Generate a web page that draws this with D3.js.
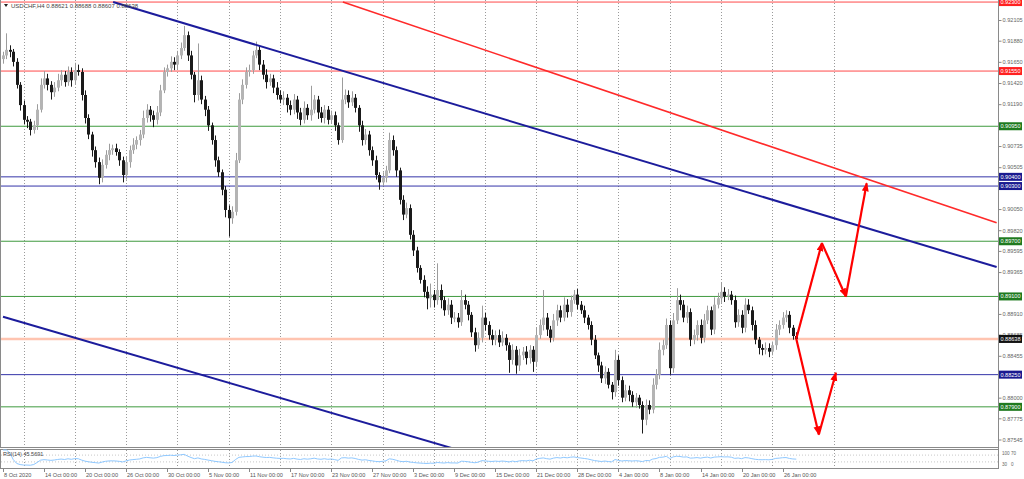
<!DOCTYPE html>
<html>
<head>
<meta charset="utf-8">
<title>USDCHF,H4</title>
<style>
  body { margin: 0; background: #fff; }
  svg { display: block; font-family: "Liberation Sans", Arial, sans-serif; }
</style>
</head>
<body>
<script src="https://cdn.jsdelivr.net/npm/d3@7/dist/d3.min.js"></script>
<script>
// closes, one bar per 8 hours
var closes = [
  0.9172,0.9178,0.9176,0.9165,0.9140,0.9118,0.9102,0.9100,0.9091,0.9096,0.9113,0.9140,
  0.9147,0.9140,0.9132,0.9137,0.9145,0.9151,0.9143,0.9154,0.9145,0.9156,0.9154,0.9129,
  0.9104,0.9086,0.9069,0.9056,0.9039,0.9053,0.9064,0.9069,0.9071,0.9067,0.9058,0.9042,
  0.9056,0.9069,0.9075,0.9080,0.9086,0.9104,0.9113,0.9107,0.9102,0.9110,0.9134,0.9154,
  0.9158,0.9165,0.9162,0.9172,0.9180,0.9194,0.9172,0.9151,0.9129,0.9145,0.9124,0.9113,
  0.9096,0.9080,0.9058,0.9045,0.9026,0.9004,0.8995,0.9002,0.9058,0.9124,0.9140,0.9154,
  0.9156,0.9172,0.9178,0.9162,0.9151,0.9143,0.9147,0.9137,0.9129,0.9124,0.9126,0.9118,
  0.9113,0.9124,0.9110,0.9102,0.9115,0.9107,0.9113,0.9124,0.9110,0.9104,0.9113,0.9102,
  0.9107,0.9096,0.9080,0.9124,0.9129,0.9121,0.9126,0.9115,0.9096,0.9080,0.9086,0.9069,
  0.9058,0.9042,0.9034,0.9039,0.9047,0.9080,0.9069,0.9047,0.9015,0.8999,0.9006,0.8977,
  0.8960,0.8941,0.8928,0.8915,0.8908,0.8912,0.8906,0.8917,0.8906,0.8895,0.8901,0.8887,
  0.8887,0.8882,0.8906,0.8901,0.8890,0.8871,0.8857,0.8865,0.8887,0.8879,0.8868,0.8863,
  0.8868,0.8860,0.8865,0.8857,0.8841,0.8852,0.8835,0.8846,0.8850,0.8843,0.8852,0.8839,
  0.8868,0.8879,0.8887,0.8874,0.8865,0.8884,0.8895,0.8887,0.8901,0.8893,0.8906,0.8912,
  0.8901,0.8895,0.8887,0.8879,0.8863,0.8846,0.8835,0.8821,0.8828,0.8814,0.8806,0.8841,
  0.8819,0.8800,0.8808,0.8803,0.8795,0.8800,0.8792,0.8776,0.8792,0.8787,0.8814,0.8825,
  0.8852,0.8857,0.8879,0.8832,0.8884,0.8906,0.8901,0.8887,0.8893,0.8863,0.8868,0.8879,
  0.8865,0.8884,0.8895,0.8874,0.8901,0.8908,0.8915,0.8910,0.8912,0.8906,0.8882,0.8890,
  0.8876,0.8901,0.8895,0.8879,0.8863,0.8854,0.8852,0.8854,0.8850,0.8857,0.8874,0.8879,
  0.8887,0.8890,0.8876,0.8867,0.88638
];
var firstOpen = 0.9168;
// upper / lower shadow length in pips
var upWick = [
  4,18,5,3,4,3,5,4,3,5,6,7,  8,5,4,6,7,5,4,6,5,8,6,4,  5,4,3,4,5,6,5,7,4,5,3,4,
  6,5,7,4,5,8,6,4,5,7,6,5,  4,6,5,5,6,10,4,5,3,40,5,4,  4,3,5,4,3,4,5,6,8,7,6,5,
  6,5,9,4,5,6,5,4,6,5,7,4,  5,6,4,5,7,4,26,5,4,6,5,4,  5,4,3,24,6,5,7,4,3,5,6,4,
  4,5,3,6,5,8,5,4,3,5,6,4,  5,4,3,5,6,12,5,29,6,4,7,5,  6,5,11,6,4,3,5,6,13,5,4,6,
  5,6,7,4,3,6,4,7,5,6,5,4,  8,6,30,5,4,7,6,5,8,6,5,5,  6,4,5,3,4,5,3,4,6,4,3,11,
  5,4,6,5,4,5,3,4,6,5,7,6,  8,6,7,5,8,13,6,5,7,4,6,5,  6,7,5,4,8,6,10,5,6,4,5,6,
  5,7,6,4,5,3,4,6,5,4,6,5,  6,5,4,3,4
];
var dnWick = [
  5,4,6,5,4,6,5,7,6,4,5,3,  4,6,8,5,4,6,5,4,7,5,4,6,  6,5,7,6,7,5,4,6,5,4,6,8,
  5,6,4,5,6,4,5,7,8,5,4,3,  5,4,6,5,4,3,6,5,8,6,5,7,  6,5,7,5,6,8,20,6,4,3,5,4,
  5,4,3,6,5,7,4,6,5,4,6,8,  6,5,7,6,4,5,6,4,7,5,6,5,  4,6,5,3,5,6,4,5,7,6,5,6,
  6,5,8,4,5,3,6,7,5,6,4,5,  6,5,4,6,12,10,8,5,9,6,5,7,  5,6,4,5,6,5,7,4,5,6,5,6,
  6,5,4,6,14,5,9,6,5,7,6,11,  5,4,6,7,5,4,6,5,4,6,5,4,  5,4,6,5,6,4,7,5,6,4,8,5,
  6,5,4,7,5,6,4,15,6,5,4,5,  5,6,4,7,5,4,6,5,6,7,5,6,  6,5,4,6,5,4,5,6,4,5,6,5,
  6,5,4,6,5,7,6,5,6,4,5,6,  4,5,6,4,3
];

var dateLabels = ["8 Oct 2020","14 Oct 00:00","20 Oct 00:00","26 Oct 00:00","30 Oct 00:00",
  "5 Nov 00:00","11 Nov 00:00","17 Nov 00:00","23 Nov 00:00","27 Nov 00:00","3 Dec 00:00",
  "9 Dec 00:00","15 Dec 00:00","21 Dec 00:00","28 Dec 00:00","4 Jan 00:00","8 Jan 00:00",
  "14 Jan 00:00","20 Jan 00:00","26 Jan 00:00"];
var gridBars = [6,21,36,51,66,81,96,111,126,141,156,168,180,195,210,225,243];
var priceTicks = [0.92105,0.91880,0.91650,0.91420,0.91190,0.90960,0.90735,0.90505,0.90275,
  0.90050,0.89820,0.89595,0.89365,0.89140,0.88910,0.88685,0.88455,0.88225,0.88000,0.87775,0.87545];
var rsiTicks = [100, 70, 30, 0];

var redLevels = [0.92300, 0.91550];
var greenLevels = [0.90950, 0.89700, 0.89100, 0.87900];
var blueLevels = [0.90400, 0.90300, 0.88250];
var lastPrice = 0.88638;
var ohlcText = "USDCHF,H4  0.88621 0.88688 0.88607 0.88638";
var rsiText = "RSI(14) 45.5691";

// trend lines as [bar, price]
var blueTrend = [[32.2, 0.9230], [290.6, 0.8942]];
var blueChannel = [[0, 0.8888], [136, 0.8740]];
var redTrend = [[99.4, 0.9230], [290.6, 0.8990]];
// scenario arrows
var upScenario = [[232, 0.8864], [239.5, 0.8968], [246.5, 0.8910], [252.6, 0.9033]];
var downScenario = [[232, 0.8864], [238.6, 0.8760], [243.6, 0.8827]];

var W = 1024, H = 479;
var plotR = 998, mainBottom = 447, rsiTop = 449, rsiBottom = 468;

var svg = d3.select("body").append("svg").attr("width", W).attr("height", H);

var x = d3.scaleLinear().domain([0, 291]).range([3, 998]);
var y = d3.scaleLinear().domain([0.92105, 0.87545]).range([20, 439.5]);
var yr = d3.scaleLinear().domain([0, 100]).range([467, 450]);

svg.append("clipPath").attr("id", "main")
  .append("rect").attr("x", 1).attr("y", 0).attr("width", plotR - 1).attr("height", mainBottom);

var grid = svg.append("g");
gridBars.forEach(function(b) {
  grid.append("line")
    .attr("x1", Math.round(x(b)) + 0.5).attr("x2", Math.round(x(b)) + 0.5)
    .attr("y1", 0).attr("y2", rsiBottom)
    .attr("stroke", "#9a9a9a").attr("stroke-width", 1).attr("stroke-dasharray", "1,2");
});

var main = svg.append("g").attr("clip-path", "url(#main)");

function hline(p, col, w) {
  main.append("line").attr("x1", 1).attr("x2", plotR)
    .attr("y1", y(p)).attr("y2", y(p))
    .attr("stroke", col).attr("stroke-width", w);
}
hline(lastPrice, "#ffc4b0", 2.5);
redLevels.forEach(function(p) { hline(p, "#ff4a4a", 1); });
greenLevels.forEach(function(p) { hline(p, "#3f9a3f", 1); });
blueLevels.forEach(function(p) { hline(p, "#3434a8", 1); });

// candles
var bars = closes.map(function(c, i) {
  var o = i === 0 ? firstOpen : closes[i - 1];
  return { i: i, o: o, c: c,
    h: Math.max(o, c) + upWick[i] * 0.0001,
    l: Math.min(o, c) - dnWick[i] * 0.0001 };
});
var cg = main.selectAll("g.bar").data(bars).enter().append("g").attr("class", "bar");
cg.append("line")
  .attr("x1", function(d) { return Math.round(x(d.i)) + 0.5; })
  .attr("x2", function(d) { return Math.round(x(d.i)) + 0.5; })
  .attr("y1", function(d) { return y(d.h); })
  .attr("y2", function(d) { return y(d.l); })
  .attr("stroke", function(d) { return d.c >= d.o ? "#9c9c9c" : "#1a1a1a"; });
cg.append("rect")
  .attr("x", function(d) { return Math.round(x(d.i)) - 1; })
  .attr("width", 3)
  .attr("y", function(d) { return y(Math.max(d.o, d.c)); })
  .attr("height", function(d) { return Math.max(1, Math.abs(y(d.o) - y(d.c))); })
  .attr("fill", function(d) { return d.c >= d.o ? "#b4b4b4" : "#1a1a1a"; });

// trend lines
var tline = d3.line().x(function(d) { return x(d[0]); }).y(function(d) { return y(d[1]); });
main.append("path").attr("d", tline(blueTrend)).attr("stroke", "#1c1c9c").attr("stroke-width", 2).attr("fill", "none");
main.append("path").attr("d", tline(blueChannel)).attr("stroke", "#1c1c9c").attr("stroke-width", 2).attr("fill", "none");
main.append("path").attr("d", tline(redTrend)).attr("stroke", "#ff2a2a").attr("stroke-width", 1.6).attr("fill", "none");

// arrows
svg.append("defs").append("marker").attr("id", "head")
  .attr("markerUnits", "userSpaceOnUse").attr("markerWidth", 10).attr("markerHeight", 8)
  .attr("refX", 8).attr("refY", 3.5).attr("orient", "auto")
  .append("path").attr("d", "M0,0 L9,3.5 L0,7 Z").attr("fill", "#ff0000");
[upScenario, downScenario].forEach(function(path) {
  for (var k = 1; k < path.length; k++) {
    main.append("line")
      .attr("x1", x(path[k - 1][0])).attr("y1", y(path[k - 1][1]))
      .attr("x2", x(path[k][0])).attr("y2", y(path[k][1]))
      .attr("stroke", "#ff0000").attr("stroke-width", 2.2)
      .attr("marker-end", "url(#head)");
  }
});

// frames
svg.append("rect").attr("x", 0.5).attr("y", -1).attr("width", plotR).attr("height", mainBottom + 1.5)
  .attr("fill", "none").attr("stroke", "#8a8a8a");
svg.append("rect").attr("x", 0.5).attr("y", rsiTop + 0.5).attr("width", plotR).attr("height", rsiBottom - rsiTop)
  .attr("fill", "none").attr("stroke", "#8a8a8a");

// top-left info
svg.append("path").attr("d", "M4,4 L8,4 L6,7 Z").attr("fill", "#222");
svg.append("text").attr("x", 11).attr("y", 8).attr("font-size", 6).attr("fill", "#444").text(ohlcText);

// right price axis (labels hidden under a level tag are left out, as in the terminal)
var tagPrices = redLevels.concat(greenLevels, blueLevels, [lastPrice]);
var shownTicks = priceTicks.filter(function(t) {
  return tagPrices.every(function(p) { return Math.abs(y(p) - y(t)) > 4; });
});
var yAxis = d3.axisRight(y).tickValues(shownTicks).tickSize(3).tickFormat(d3.format(".5f"));
var ya = svg.append("g").attr("transform", "translate(" + (plotR + 0.5) + ",0)").call(yAxis);
ya.select(".domain").attr("stroke", "#8a8a8a").attr("d", "M0,0V" + (rsiBottom + 1));
ya.selectAll(".tick line").attr("stroke", "#888");
ya.selectAll(".tick text").attr("font-size", 5.6).attr("fill", "#666").attr("x", 4)
  .attr("font-family", "Liberation Sans, Arial, sans-serif");

function tag(p, col, txt) {
  var g = svg.append("g").attr("transform", "translate(999," + y(p) + ")");
  g.append("rect").attr("x", 0).attr("y", -4).attr("width", 23).attr("height", 8).attr("fill", col);
  g.append("text").attr("x", 11.5).attr("y", 2).attr("text-anchor", "middle")
    .attr("font-size", 5.6).attr("fill", "#fff").text(txt);
}
redLevels.forEach(function(p) { tag(p, "#ff2020", d3.format(".5f")(p)); });
greenLevels.forEach(function(p) { tag(p, "#1f7a1f", d3.format(".5f")(p)); });
blueLevels.forEach(function(p) { tag(p, "#1a1a90", d3.format(".5f")(p)); });
tag(lastPrice, "#111", d3.format(".5f")(lastPrice));

// RSI panel
var gains = 0, losses = 0, rsi = [];
closes.forEach(function(c, i) {
  var prev = i === 0 ? firstOpen : closes[i - 1];
  var ch = c - prev, n = Math.min(i + 1, 14);
  gains = (gains * (n - 1) + Math.max(ch, 0)) / n;
  losses = (losses * (n - 1) + Math.max(-ch, 0)) / n;
  rsi.push(losses === 0 ? 100 : 100 - 100 / (1 + gains / losses));
});
[70, 30].forEach(function(v) {
  svg.append("line").attr("x1", 1).attr("x2", plotR).attr("y1", yr(v)).attr("y2", yr(v))
    .attr("stroke", "#c8c8c8").attr("stroke-dasharray", "1,2");
});
svg.append("path").datum(rsi)
  .attr("d", d3.line().x(function(d, i) { return x(i); }).y(function(d) { return yr(d); }))
  .attr("fill", "none").attr("stroke", "#8ec8ff").attr("stroke-width", 1);
svg.append("text").attr("x", 3).attr("y", 456).attr("font-size", 5.5).attr("fill", "#444").text(rsiText);
// the panel is too short for four stacked labels: pair them side by side
rsiTicks.forEach(function(v, k) {
  svg.append("text").attr("x", 1002 + (k % 2) * 9).attr("y", k < 2 ? 455 : 465.5)
    .attr("font-size", 4.6).attr("fill", "#666").text(v);
});

// date axis
var dg = svg.append("g");
dateLabels.forEach(function(lbl, k) {
  var xx = Math.round(x(k * 12)) + 0.5;
  dg.append("line").attr("x1", xx).attr("x2", xx).attr("y1", rsiBottom + 1).attr("y2", rsiBottom + 4).attr("stroke", "#888");
  dg.append("text").attr("x", xx + 0.5).attr("y", 477).attr("font-size", 5.6).attr("fill", "#555").text(lbl);
});
</script>
</body>
</html>
